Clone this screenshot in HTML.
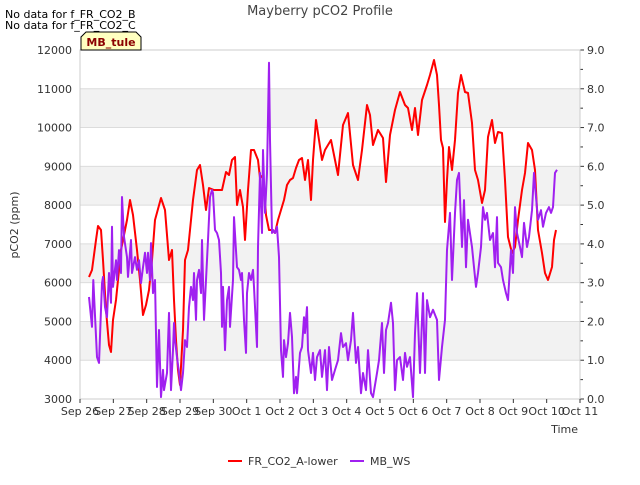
<!DOCTYPE html>
<html><head><meta charset="utf-8"><style>
body{margin:0;background:#fff;font-family:"Liberation Sans","DejaVu Sans",sans-serif;}
svg text{font-family:"DejaVu Sans","Liberation Sans",sans-serif;}
</style></head><body>
<svg id="c" width="640" height="480" viewBox="0 0 640 480"></svg>
<script>
const yTicks=[3000,4000,5000,6000,7000,8000,9000,10000,11000,12000];
const y2Ticks=["0.0","1.0","2.0","3.0","4.0","5.0","6.0","7.0","8.0","9.0"];
const xLabels=["Sep 26","Sep 27","Sep 28","Sep 29","Sep 30","Oct 1","Oct 2","Oct 3","Oct 4","Oct 5","Oct 6","Oct 7","Oct 8","Oct 9","Oct 10","Oct 11"];
const redDays=[0.27,0.36,0.48,0.54,0.63,0.69,0.78,0.87,0.93,0.99,1.08,1.17,1.23,1.32,1.41,1.5,1.59,1.71,1.8,1.89,1.98,2.07,2.16,2.25,2.43,2.55,2.67,2.76,2.82,2.88,2.94,3.0,3.09,3.15,3.24,3.3,3.39,3.51,3.6,3.69,3.78,3.87,4.02,4.14,4.26,4.38,4.47,4.56,4.65,4.71,4.8,4.89,4.95,5.04,5.13,5.22,5.34,5.4,5.49,5.58,5.67,5.76,5.85,5.94,6.03,6.12,6.21,6.3,6.39,6.48,6.57,6.66,6.75,6.84,6.93,6.99,7.08,7.17,7.26,7.35,7.44,7.53,7.74,7.89,8.04,8.19,8.34,8.46,8.61,8.7,8.79,8.94,9.09,9.18,9.3,9.45,9.6,9.75,9.84,9.96,10.05,10.14,10.26,10.41,10.5,10.62,10.71,10.77,10.83,10.89,10.95,11.01,11.07,11.16,11.25,11.34,11.43,11.55,11.64,11.76,11.85,11.94,12.06,12.15,12.24,12.36,12.45,12.54,12.66,12.75,12.84,12.96,13.05,13.14,13.26,13.35,13.44,13.56,13.65,13.74,13.86,13.95,14.04,14.16,14.22,14.28];
const redVals=[6146,6327,7100,7462,7358,6585,5295,4393,4212,5037,5553,6327,6843,7230,7616,8132,7745,6843,6069,5166,5424,5811,6585,7616,8184,7874,6585,6843,5553,4522,3748,3361,4780,6585,6843,7359,8132,8906,9035,8519,7874,8442,8390,8390,8390,8854,8777,9164,9241,8003,8390,7952,7101,8390,9422,9422,9164,8700,8777,7745,7358,7358,7281,7616,7874,8132,8519,8648,8700,8957,9164,9215,8648,9164,8132,9164,10195,9680,9164,9422,9551,9680,8777,10066,10376,9035,8648,9422,10582,10324,9551,9938,9731,8596,9809,10453,10918,10582,10505,9938,10505,9809,10711,11098,11356,11743,11356,10582,9680,9473,7565,8648,9499,8906,9680,10892,11356,10918,10892,10118,8906,8648,8055,8390,9757,10195,9602,9886,9860,8648,7178,6765,6920,7616,8390,8829,9602,9422,8906,7358,6765,6250,6069,6404,7100,7358];
const purDays=[0.27,0.36,0.4,0.51,0.57,0.66,0.69,0.75,0.81,0.87,0.93,0.96,0.99,1.08,1.11,1.17,1.23,1.26,1.32,1.41,1.44,1.53,1.56,1.65,1.71,1.77,1.83,1.89,1.95,2.01,2.04,2.1,2.13,2.19,2.25,2.31,2.37,2.43,2.49,2.52,2.61,2.67,2.73,2.79,2.82,2.85,2.91,2.97,3.03,3.09,3.15,3.21,3.27,3.33,3.39,3.42,3.48,3.51,3.57,3.63,3.66,3.72,3.78,3.84,3.9,3.96,3.99,4.05,4.11,4.17,4.23,4.26,4.29,4.35,4.41,4.47,4.5,4.59,4.62,4.71,4.77,4.83,4.86,4.92,4.98,5.01,5.07,5.13,5.19,5.22,5.31,5.34,5.4,5.46,5.49,5.55,5.61,5.67,5.7,5.76,5.79,5.85,5.91,5.97,6.03,6.09,6.12,6.18,6.24,6.3,6.36,6.42,6.48,6.51,6.6,6.66,6.72,6.75,6.81,6.84,6.93,6.99,7.05,7.11,7.2,7.26,7.35,7.41,7.47,7.56,7.65,7.74,7.83,7.89,7.98,8.04,8.13,8.19,8.28,8.34,8.43,8.49,8.58,8.64,8.73,8.79,8.91,8.97,9.06,9.12,9.18,9.24,9.33,9.39,9.45,9.51,9.6,9.69,9.75,9.81,9.9,9.99,10.05,10.11,10.2,10.29,10.35,10.41,10.5,10.59,10.71,10.77,10.86,10.95,11.01,11.1,11.16,11.25,11.31,11.37,11.46,11.52,11.58,11.64,11.76,11.82,11.88,11.94,12.03,12.09,12.15,12.21,12.3,12.39,12.45,12.51,12.54,12.63,12.69,12.78,12.84,12.93,12.99,13.05,13.11,13.2,13.26,13.32,13.41,13.47,13.56,13.62,13.68,13.74,13.83,13.89,13.98,14.07,14.13,14.19,14.25,14.31];
const purVals=[2.63,1.86,3.07,1.08,0.93,2.99,3.15,2.37,2.11,3.25,2.48,4.44,2.89,3.58,3.07,3.84,3.25,5.21,4.18,3.66,3.15,4.1,3.25,3.66,3.33,3.58,2.99,3.4,3.77,3.25,3.77,3.07,4.02,2.73,3.07,0.31,1.78,0.05,0.75,0.23,0.67,2.22,0.23,1.26,1.96,1.52,1.08,0.67,0.23,0.67,1.52,1.34,2.37,2.89,2.55,3.25,2.04,3.07,3.33,2.73,4.1,2.04,3.07,4.1,5.21,5.39,5.31,4.36,4.28,4.1,3.25,1.86,2.89,1.26,2.55,2.89,1.86,3.07,4.69,3.4,3.33,3.07,3.25,2.04,1.19,2.73,3.25,3.07,3.33,2.89,1.34,3.92,5.83,4.28,6.42,4.8,5.83,8.67,6.68,4.28,4.36,4.28,4.44,3.66,1.26,0.57,1.52,1.08,1.44,2.22,1.6,0.15,0.57,0.15,1.19,1.34,2.11,1.7,2.37,1.26,0.67,1.19,0.49,1.08,1.26,0.57,1.26,0.23,1.34,0.49,0.75,1.0,1.7,1.34,1.44,1.0,1.52,2.22,0.93,1.34,0.15,0.67,0.23,1.26,0.15,0.05,0.67,1.0,1.96,0.67,1.78,1.96,2.48,1.96,0.23,1.0,1.08,0.49,1.19,0.83,1.08,0.05,1.7,2.73,0.67,2.73,0.67,2.55,2.11,2.3,2.04,0.49,1.34,2.04,3.84,4.8,3.07,4.8,5.65,5.83,3.92,5.13,3.4,4.62,3.92,3.4,2.89,3.25,3.92,4.95,4.62,4.8,4.1,4.28,3.4,4.69,3.51,3.4,3.07,2.73,2.55,3.84,3.25,4.95,4.28,3.92,3.66,4.54,3.92,4.18,4.87,5.83,5.21,4.62,4.87,4.44,4.8,4.95,4.8,4.95,5.83,5.91];

const L=80,R=580,T=50,B=399;
const xs=d=>L+(R-L)*d/15;
const ys=v=>B-(B-T)*(v-3000)/9000;
const y2s=v=>B-(B-T)*v/9;
const svg=document.getElementById('c');
const NS='http://www.w3.org/2000/svg';
function mk(tag,at,txt){const e=document.createElementNS(NS,tag);for(const k in at)e.setAttribute(k,at[k]);if(txt!==undefined)e.textContent=txt;svg.appendChild(e);return e;}
let e;
// bands
for(let i=0;i<yTicks.length-1;i++){ if(i%2===1){
 e=mk('rect',{x:L,y:ys(yTicks[i+1]),width:R-L,height:ys(yTicks[i])-ys(yTicks[i+1]),fill:'#f2f2f2'});
 
 }}
yTicks.forEach((v,i)=>{
 e=mk('line',{x1:L,x2:R,y1:ys(v),y2:ys(v),stroke:'#dcdcdc','stroke-width':1});
 
 
 e=mk('text',{x:L-8,y:ys(v)+4,'text-anchor':'end','font-size':11,fill:'#333'},v);
 
 
 e=mk('text',{x:R+7,y:y2s(i)+4,'font-size':11,fill:'#333'},y2Ticks[i]);
 
 
 e=mk('line',{x1:R,x2:R+4,y1:y2s(i),y2:y2s(i),stroke:'#333'});
 
 
 if(i<9){e=mk('line',{x1:R,x2:R+3,y1:y2s(i+0.5),y2:y2s(i+0.5),stroke:'#333'});
 
 }
});
e=mk('rect',{x:L,y:T,width:R-L,height:B-T,fill:'none',stroke:'#ccc'});


xLabels.forEach((s,i)=>{
 e=mk('line',{x1:xs(i),x2:xs(i),y1:B,y2:B+4,stroke:'#333'});
 
 
 e=mk('text',{x:xs(i),y:B+16,'text-anchor':'middle','font-size':11,fill:'#333'},s);
 
 
});
function path(d,v,sc){return d.map((t,i)=>(i?'L':'M')+xs(t).toFixed(1)+','+sc(v[i]).toFixed(1)).join('');}
e=mk('path',{d:path(redDays,redVals,ys),fill:'none',stroke:'#ff0000','stroke-width':2,'stroke-linejoin':'round'});


e=mk('path',{d:path(purDays,purVals,y2s),fill:'none',stroke:'#a020f0','stroke-width':2,'stroke-linejoin':'round'});


e=mk('text',{x:320,y:15,'text-anchor':'middle','font-size':13,fill:'#444'},'Mayberry pCO2 Profile');


e=mk('text',{x:5,y:18,'font-size':11,fill:'#000'},'No data for f_FR_CO2_B');


e=mk('text',{x:5,y:29,'font-size':11,fill:'#000'},'No data for f_FR_CO2_C');


e=mk('path',{d:'M81,50 L81,37 L86,32 L136,32 L141,37 L141,50 Z',fill:'#ffffc0',stroke:'#000'});


e=mk('text',{x:111,y:46,'text-anchor':'middle','font-size':11,'font-weight':'bold',fill:'#8b0000'},'MB_tule');


e=mk('text',{x:18,y:225,'text-anchor':'middle','font-size':11,fill:'#333',transform:'rotate(-90 18 225)'},'pCO2 (ppm)');


e=mk('text',{x:578,y:433,'text-anchor':'end','font-size':11,fill:'#333'},'Time');


e=mk('line',{x1:228,x2:242,y1:461,y2:461,stroke:'#ff0000','stroke-width':2});


e=mk('text',{x:248,y:465,'font-size':11,fill:'#333'},'FR_CO2_A-lower');


e=mk('line',{x1:350,x2:364,y1:461,y2:461,stroke:'#a020f0','stroke-width':2});


e=mk('text',{x:370,y:465,'font-size':11,fill:'#333'},'MB_WS');


</script>
</body></html>
